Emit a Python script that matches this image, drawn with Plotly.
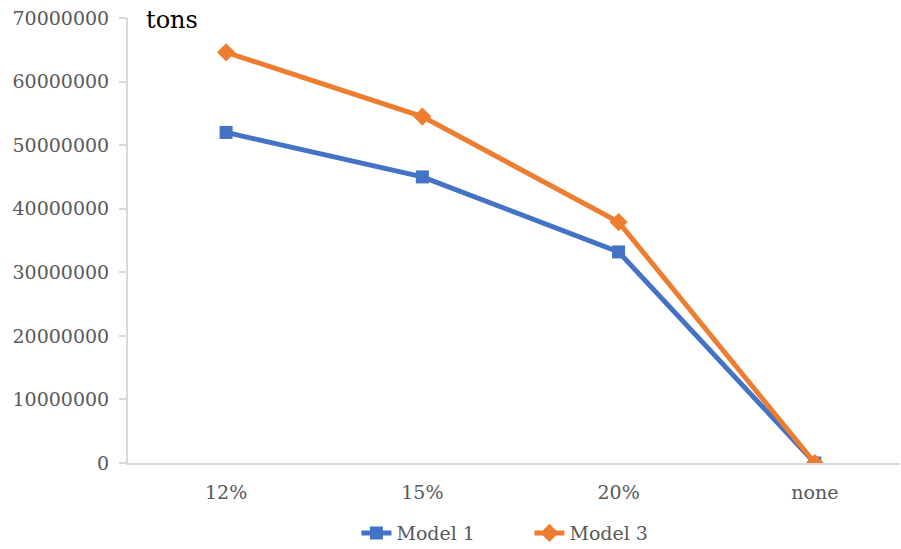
import plotly.graph_objects as go

categories = ["12%", "15%", "20%", "none"]
model1 = [52000000, 45000000, 33200000, 0]
model3 = [64600000, 54500000, 37900000, 0]
y_ticks = [0, 10000000, 20000000, 30000000, 40000000, 50000000, 60000000, 70000000]

serif = "DejaVu Serif"
tick_color = "#595959"
axis_color = "#d9d9d9"

fig = go.Figure()
fig.add_trace(go.Scatter(
    x=categories, y=model1, name="Model 1", mode="lines+markers",
    line=dict(color="#4472C4", width=5),
    marker=dict(symbol="square", size=13, color="#4472C4"),
))
fig.add_trace(go.Scatter(
    x=categories, y=model3, name="Model 3", mode="lines+markers",
    line=dict(color="#ED7D31", width=5),
    marker=dict(symbol="diamond", size=14, color="#ED7D31"),
))

fig.update_layout(
    width=901, height=549,
    margin=dict(l=128, r=1, t=18, b=86, autoexpand=False),
    paper_bgcolor="white", plot_bgcolor="white",
    font=dict(family=serif, size=19, color=tick_color),
    showlegend=True,
    legend=dict(
        orientation="h", x=0.52, xanchor="center",
        yref="container", y=0.029, yanchor="middle",
        font=dict(family=serif, size=19, color=tick_color),
        entrywidth=128, entrywidthmode="pixels",
    ),
    xaxis=dict(
        type="category", range=[-0.5, 3.434],
        showline=True, linecolor=axis_color, linewidth=2,
        showgrid=False, ticks="", zeroline=False,
        tickfont=dict(family=serif, size=19, color=tick_color),
        ticklabelstandoff=11,
    ),
    yaxis=dict(
        range=[0, 70000000], tickvals=y_ticks,
        ticktext=[str(v) for v in y_ticks],
        showline=True, linecolor=axis_color, linewidth=2,
        ticks="outside", ticklen=7, tickcolor=axis_color, tickwidth=2,
        showgrid=False, zeroline=False,
        tickfont=dict(family=serif, size=19, color=tick_color),
        ticklabelstandoff=6,
    ),
    annotations=[dict(
        text="tons", xref="paper", yref="paper", x=(144 - 128) / 772, y=0.995,
        xanchor="left", yanchor="middle", showarrow=False,
        font=dict(family=serif, size=24, color="black"),
    )],
)

fig.write_html("out.html")
